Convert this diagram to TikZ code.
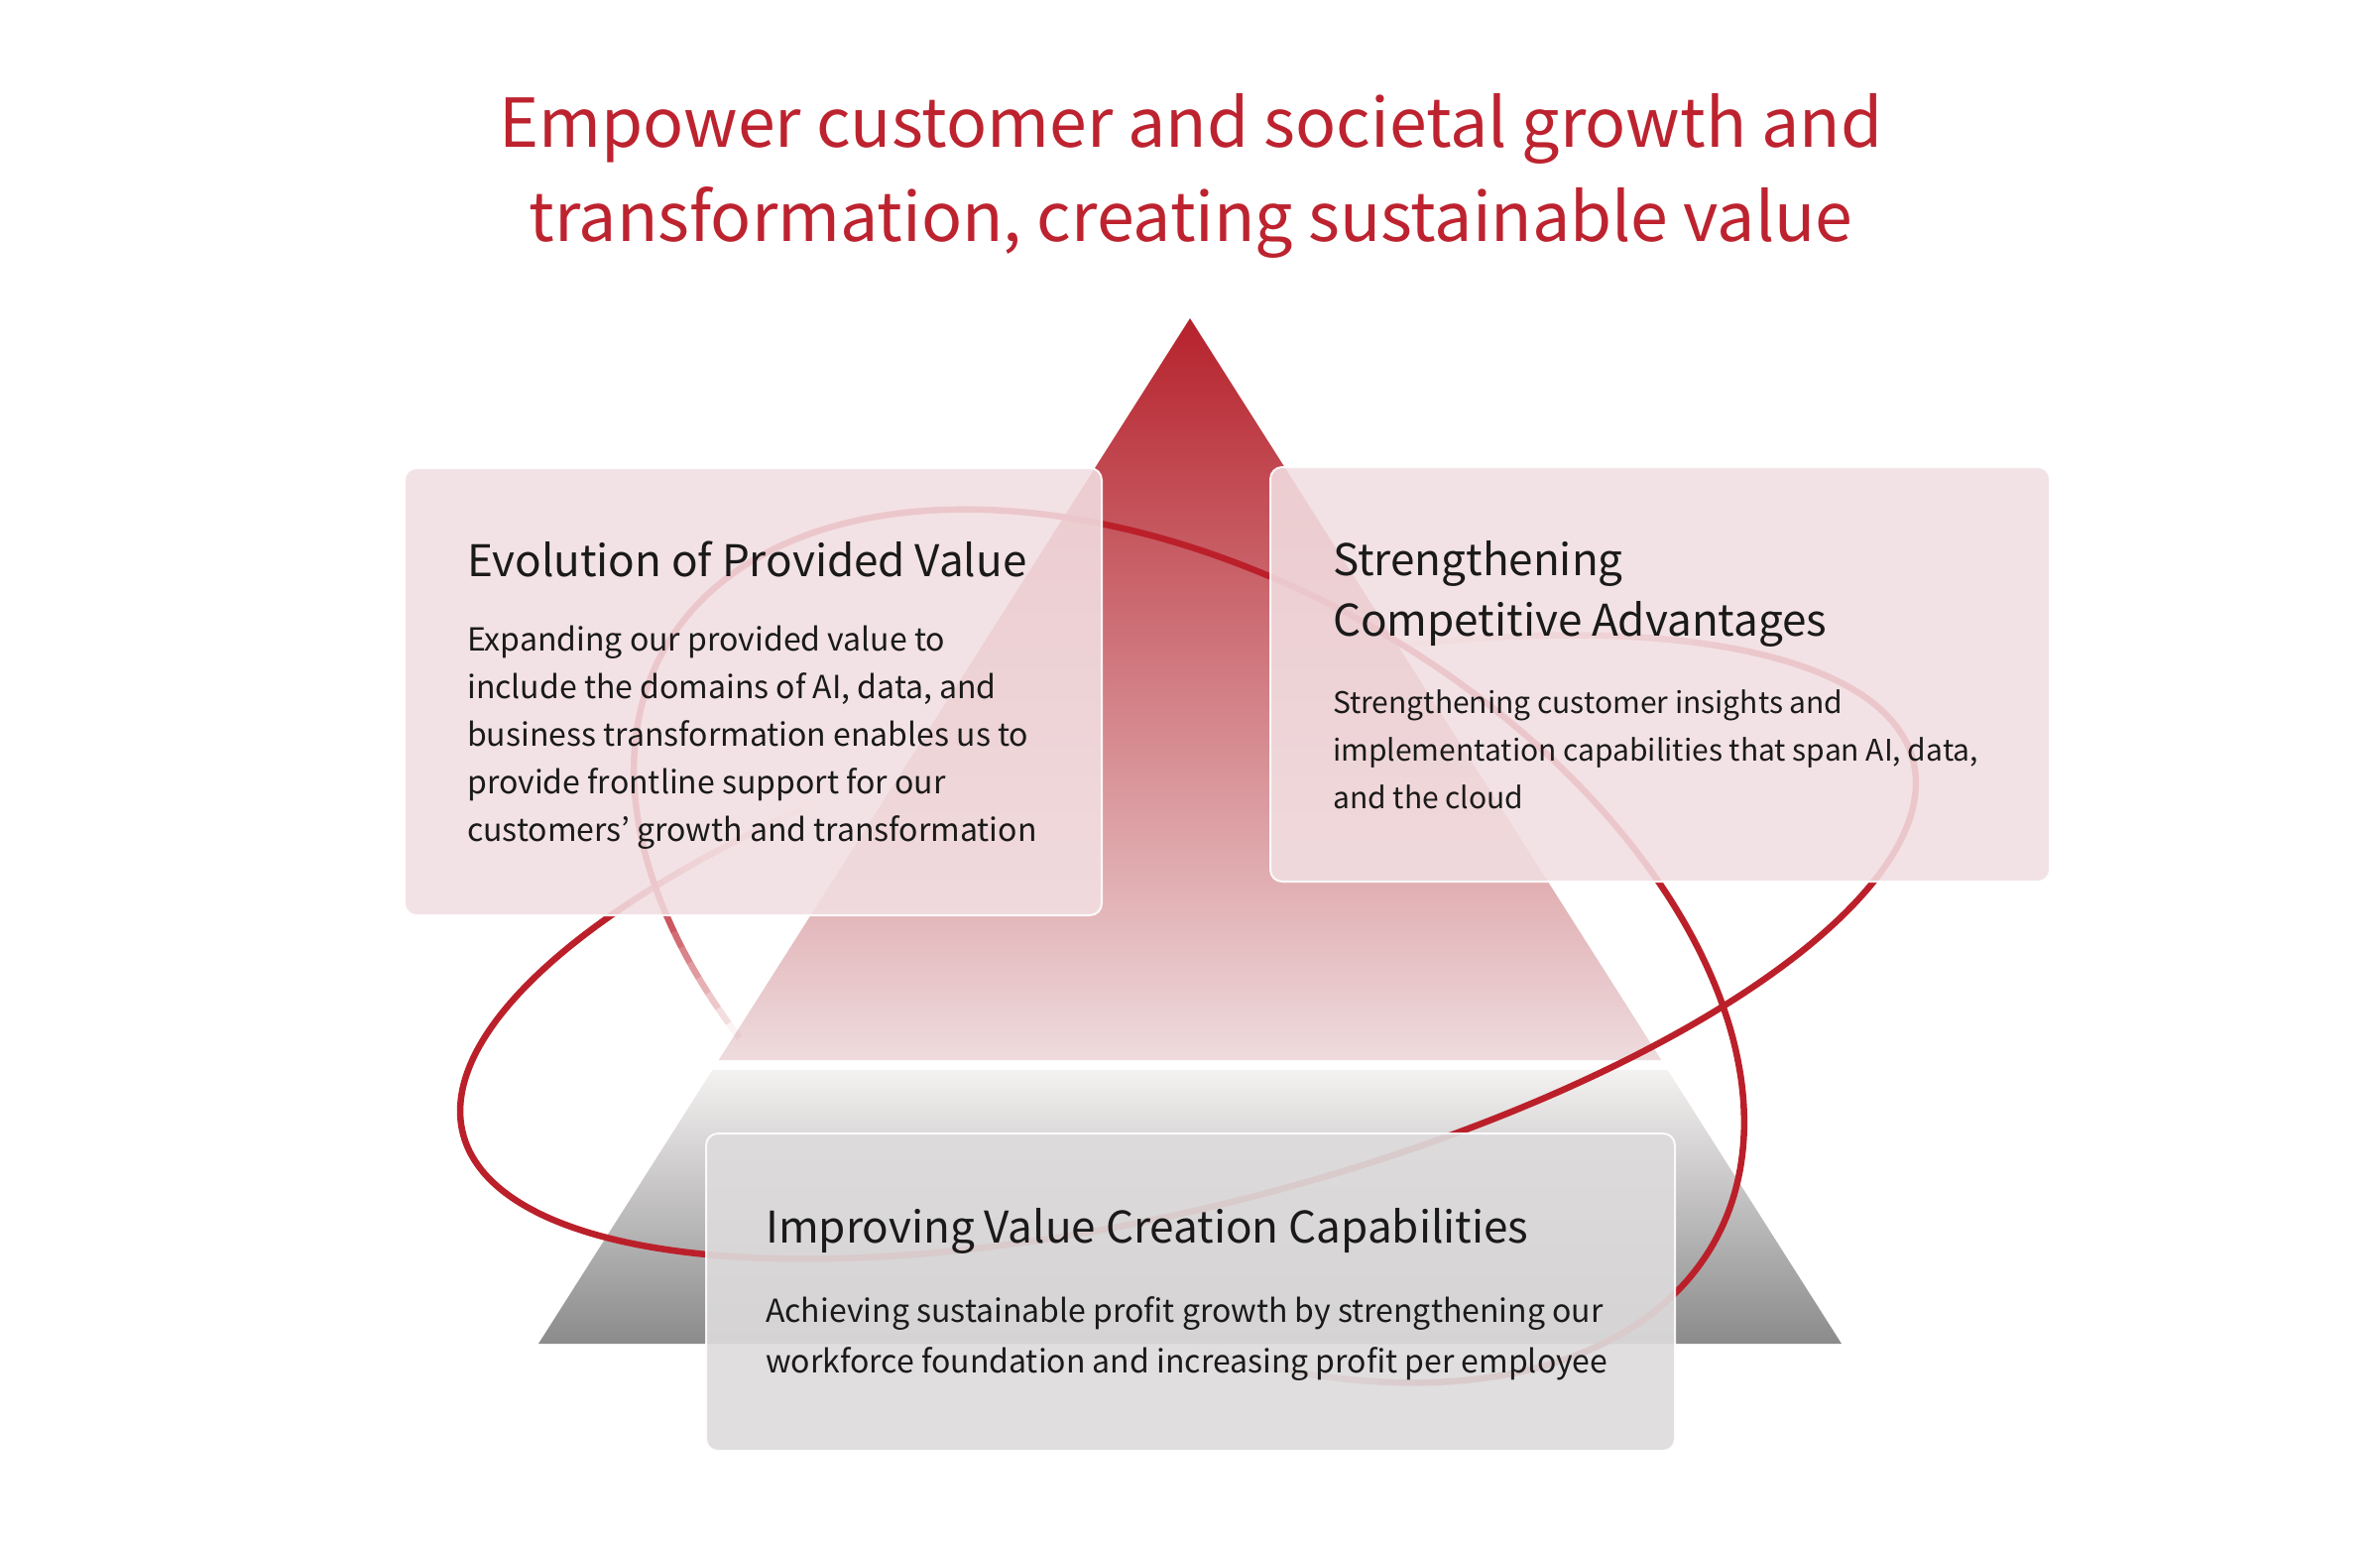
\documentclass[tikz,border=0pt]{standalone}
\usepackage{fontspec}
\setmainfont{Noto Sans CJK JP}
\definecolor{ringred}{RGB}{187,32,42}
\definecolor{titlered}{RGB}{189,35,47}
\definecolor{triTop}{RGB}{182,34,44}
\definecolor{triBot}{RGB}{238,219,221}
\definecolor{trapTop}{RGB}{244,241,241}
\definecolor{trapBot}{RGB}{139,139,139}
\definecolor{pinkbox}{RGB}{242,223,226}
\definecolor{graybox}{RGB}{221,219,220}
\definecolor{ink}{RGB}{26,26,26}
\begin{document}
\begin{tikzpicture}[x=1pt,y=-1pt,
  ring/.style={draw=ringred, line width=6.5pt, line cap=butt, line join=round},
  pinkcard/.style={fill=pinkbox, fill opacity=0.88, draw=white, draw opacity=0.9, line width=2pt, rounded corners=12pt, anchor=north west, inner sep=0pt},
  graycard/.style={fill=graybox, fill opacity=0.91, draw=white, draw opacity=0.9, line width=2pt, rounded corners=12pt, anchor=north west, inner sep=0pt},
  headtxt/.style={anchor=base west, inner sep=0pt, text=ink, font=\fontsize{44}{54}\selectfont},
  bodytxt/.style={anchor=base west, inner sep=0pt, text=ink, font=\fontsize{32}{48}\selectfont},
  smallbodytxt/.style={anchor=base west, inner sep=0pt, text=ink, font=\fontsize{30}{48}\selectfont},
  titletxt/.style={anchor=base, inner sep=0pt, text=titlered, font=\fontsize{68}{90}\selectfont}]

\fill[white] (0,0) rectangle (2400,1556);
\useasboundingbox (0,0) rectangle (2400,1556);

% pyramid
\coordinate (apex) at (1200,321);
\shade[top color=triTop, bottom color=triBot] (apex) -- (1675.3,1069) -- (724.7,1069) -- cycle;
\shade[top color=trapTop, bottom color=trapBot] (718.4,1079) -- (1681.6,1079) -- (1857,1355) -- (543,1355) -- cycle;

% ring A (rising to the right)
\draw[ring] plot[domain=-35:223, samples=220, smooth] ({1198+731.1*cos(\x)+64.9*sin(\x)},{955-188.4*cos(\x)+251.8*sin(\x)});
\foreach \k in {0,...,17} {
  \pgfmathsetmacro\ta{-35-2*\k}
  \pgfmathsetmacro\tb{-37-2*\k}
  \pgfmathsetmacro\op{1-(\k+0.5)/18}
  \draw[ring, draw opacity=\op] plot[domain=\ta:\tb, samples=3] ({1198+731.1*cos(\x)+64.9*sin(\x)},{955-188.4*cos(\x)+251.8*sin(\x)});
}
\foreach \k in {0,...,10} {
  \pgfmathsetmacro\ta{223+2*\k}
  \pgfmathsetmacro\tb{225+2*\k}
  \pgfmathsetmacro\op{1-(\k+0.5)/11}
  \draw[ring, draw opacity=\op] plot[domain=\ta:\tb, samples=3] ({1198+731.1*cos(\x)+64.9*sin(\x)},{955-188.4*cos(\x)+251.8*sin(\x)});
}

% ring B (falling to the right)
\draw[ring] plot[domain=-215:45, samples=220, smooth] ({1199+529.2*cos(\x)-182.7*sin(\x)},{954+299.4*cos(\x)+322.9*sin(\x)});
\foreach \k in {0,...,9} {
  \pgfmathsetmacro\ta{-215-2*\k}
  \pgfmathsetmacro\tb{-217-2*\k}
  \pgfmathsetmacro\op{1-(\k+0.5)/10}
  \draw[ring, draw opacity=\op] plot[domain=\ta:\tb, samples=3] ({1199+529.2*cos(\x)-182.7*sin(\x)},{954+299.4*cos(\x)+322.9*sin(\x)});
}
\foreach \k in {0,...,12} {
  \pgfmathsetmacro\ta{45+2*\k}
  \pgfmathsetmacro\tb{47+2*\k}
  \pgfmathsetmacro\op{1-(\k+0.5)/13}
  \draw[ring, draw opacity=\op] plot[domain=\ta:\tb, samples=3] ({1199+529.2*cos(\x)-182.7*sin(\x)},{954+299.4*cos(\x)+322.9*sin(\x)});
}

% cards
\node[pinkcard, minimum width=703pt, minimum height=451pt] (leftcard) at (407,471) {};
\node[pinkcard, minimum width=786pt, minimum height=418pt] (rightcard) at (1280,470) {};
\node[graycard, minimum width=977pt, minimum height=320pt] (bottomcard) at (711,1142) {};

% title
\node[titletxt] (title1) at (1201,148) {Empower customer and societal growth and};
\node[titletxt] (title2) at (1201,243) {transformation, creating sustainable value};

% left card text
\node[headtxt] (lh) at (471,581) {Evolution of Provided Value};
\node[bodytxt] (lb1) at (471,656) {Expanding our provided value to};
\node[bodytxt] (lb2) at (471,704) {include the domains of AI, data, and};
\node[bodytxt] (lb3) at (471,752) {business transformation enables us to};
\node[bodytxt] (lb4) at (471,800) {provide frontline support for our};
\node[bodytxt] (lb5) at (471,848) {customers’ growth and transformation};

% right card text
\node[headtxt] (rh1) at (1344,580) {Strengthening};
\node[headtxt] (rh2) at (1344,641) {Competitive Advantages};
\node[smallbodytxt] (rb1) at (1344,719) {Strengthening customer insights and};
\node[smallbodytxt] (rb2) at (1344,767) {implementation capabilities that span AI, data,};
\node[smallbodytxt] (rb3) at (1344,815) {and the cloud};

% bottom card text
\node[headtxt] (bh) at (772,1253) {Improving Value Creation Capabilities};
\node[bodytxt] (bb1) at (772,1333) {Achieving sustainable profit growth by strengthening our};
\node[bodytxt] (bb2) at (772,1384) {workforce foundation and increasing profit per employee};
\end{tikzpicture}
\end{document}
